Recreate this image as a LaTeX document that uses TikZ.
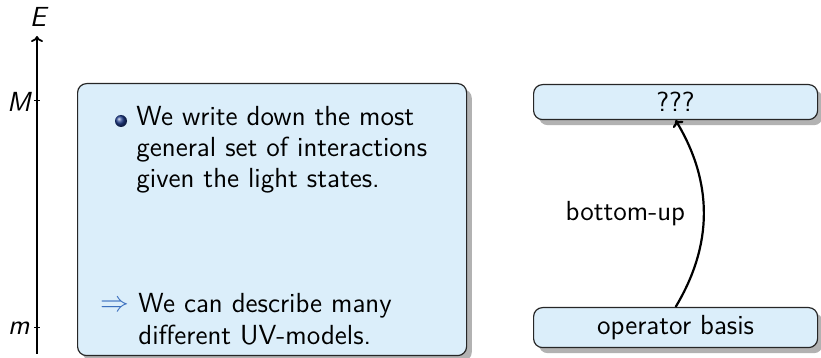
\documentclass[tikz,border=0pt]{standalone}
\usepackage{fontspec}
\usetikzlibrary{arrows.meta,shadows}
\definecolor{boxfill}{RGB}{219,238,250}
\definecolor{arrowblue}{RGB}{58,110,190}
\definecolor{ballblue}{RGB}{30,60,140}
\newcommand{\slidefont}{\sffamily\fontsize{13.8}{15.5}\selectfont}
\tikzset{
  txt/.style={font=\slidefont, inner sep=0pt, anchor=base west},
  axlabel/.style={font=\sffamily\itshape\fontsize{13.8}{15.5}\selectfont, inner sep=0pt},
  panel/.style={draw=black!85, line width=0.6pt, fill=boxfill, rounded corners=4.5pt,
    drop shadow={shadow xshift=2.6pt, shadow yshift=-2.8pt, fill=black!30, opacity=1}},
  flowarrow/.style={-{To[length=3pt,width=6pt]}, line width=1.1pt},
}
\begin{document}
\begin{tikzpicture}[x=0.5pt,y=-0.5pt]
\useasboundingbox (0,0) rectangle (821,358);
% energy axis
\coordinate (axbot) at (37,354);
\coordinate (axtop) at (37,36);
\draw[-{To[length=3pt,width=6pt]}, line width=0.85pt] (axbot) -- (axtop);
\node[axlabel] (E) at (38,17) {E};
\coordinate (tM) at (37,101);
\coordinate (tm) at (37,328);
\draw[line width=0.5pt] ([xshift=-1.5pt]tM) -- ([xshift=1.5pt]tM);
\draw[line width=0.5pt] ([xshift=-1.5pt]tm) -- ([xshift=1.5pt]tm);
\node[axlabel, anchor=east] (Mlab) at (31,102) {M};
\node[axlabel, anchor=east] (mlab) at (30,328) {m};
% left panel
\node[panel, minimum width=194.5pt, minimum height=136pt, anchor=north west, inner sep=0pt] (left) at (77,83) {};
\shade[ball color=ballblue] (121,121) circle (3pt);
\node[txt] (l1) at (136,126) {We write down the most};
\node[txt] (l2) at (136,157) {general set of interactions};
\node[txt] (l3) at (136,188) {given the light states.};
\node[txt, text=arrowblue] (imp) at (100,312) {$\Rightarrow$};
\node[txt] (l4) at (138,313) {We can describe many};
\node[txt] (l5) at (138,345) {different UV-models.};
% right boxes
\node[panel, minimum width=142pt, minimum height=17.5pt, anchor=north west, inner sep=0pt,
  font=\slidefont] (top) at (533,84) {???};
\node[panel, minimum width=142pt, minimum height=20pt, anchor=north west, inner sep=0pt,
  font=\slidefont] (bot) at (533,307) {operator basis};
\draw[flowarrow] (bot.north) to[bend right=31] node[midway, left=5.5pt, font=\slidefont] (lab) {bottom-up} (top.south);
\end{tikzpicture}
\end{document}
